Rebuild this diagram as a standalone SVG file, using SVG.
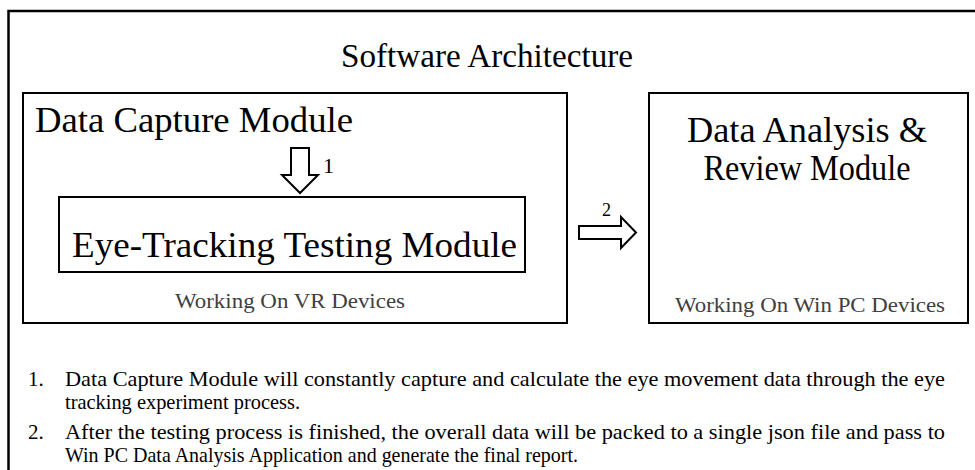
<svg xmlns="http://www.w3.org/2000/svg" width="975" height="470" viewBox="0 0 975 470">
<style>
.t{font-family:"Liberation Serif","Times New Roman",serif;fill:#000}
.g{fill:#404040}
.box{fill:none;stroke:#000;stroke-width:2}
.arr{fill:#fff;stroke:#000;stroke-width:2;stroke-linejoin:miter}
</style>
<rect x="0" y="0" width="975" height="470" fill="#fff"/>
<rect id="frame" x="8.5" y="11" width="980" height="480" fill="none" stroke="#000" stroke-width="2.5"/>
<text class="t" x="341" y="67" font-size="33" textLength="292" lengthAdjust="spacingAndGlyphs">Software Architecture</text>
<g id="data-capture-module">
<rect class="box" x="23" y="93" width="544" height="230"/>
<text class="t" x="35" y="132" font-size="36" textLength="318" lengthAdjust="spacingAndGlyphs">Data Capture Module</text>
<text class="t g" x="290" y="308" font-size="22" text-anchor="middle" textLength="230" lengthAdjust="spacingAndGlyphs">Working On VR Devices</text>
</g>
<g id="eye-tracking-testing-module">
<rect class="box" x="59" y="197" width="466" height="75"/>
<text class="t" x="72" y="257" font-size="36" textLength="445" lengthAdjust="spacingAndGlyphs">Eye-Tracking Testing Module</text>
</g>
<g id="data-analysis-review-module">
<rect class="box" x="649" y="93" width="319" height="230"/>
<text class="t" x="807" y="142" font-size="36" text-anchor="middle" textLength="240" lengthAdjust="spacingAndGlyphs">Data Analysis &amp;</text>
<text class="t" x="807" y="180" font-size="36" text-anchor="middle" textLength="207" lengthAdjust="spacingAndGlyphs">Review Module</text>
<text class="t g" x="810" y="312" font-size="22" text-anchor="middle" textLength="270" lengthAdjust="spacingAndGlyphs">Working On Win PC Devices</text>
</g>
<g id="connectors">
<polygon class="arr" points="291,148 309,148 309,175 318,175 300,193 282,175 291,175"/>
<text class="t" x="323" y="173" font-size="22" fill="#333">1</text>
<polygon class="arr" points="579,226 621,226 621,217 636,232.5 621,248 621,239 579,239"/>
<text class="t" x="602" y="216" font-size="18" fill="#333">2</text>
</g>
<g id="notes" class="t" font-size="21">
<text x="28" y="386">1.</text>
<text x="65" y="386" textLength="880" lengthAdjust="spacingAndGlyphs">Data Capture Module will constantly capture and calculate the eye movement data through the eye</text>
<text x="65" y="409" textLength="235" lengthAdjust="spacingAndGlyphs">tracking experiment process.</text>
<text x="28" y="439">2.</text>
<text x="65" y="439" textLength="880" lengthAdjust="spacingAndGlyphs">After the testing process is finished, the overall data will be packed to a single json file and pass to</text>
<text x="65" y="462" textLength="513" lengthAdjust="spacingAndGlyphs">Win PC Data Analysis Application and generate the final report.</text>
</g>
</svg>
